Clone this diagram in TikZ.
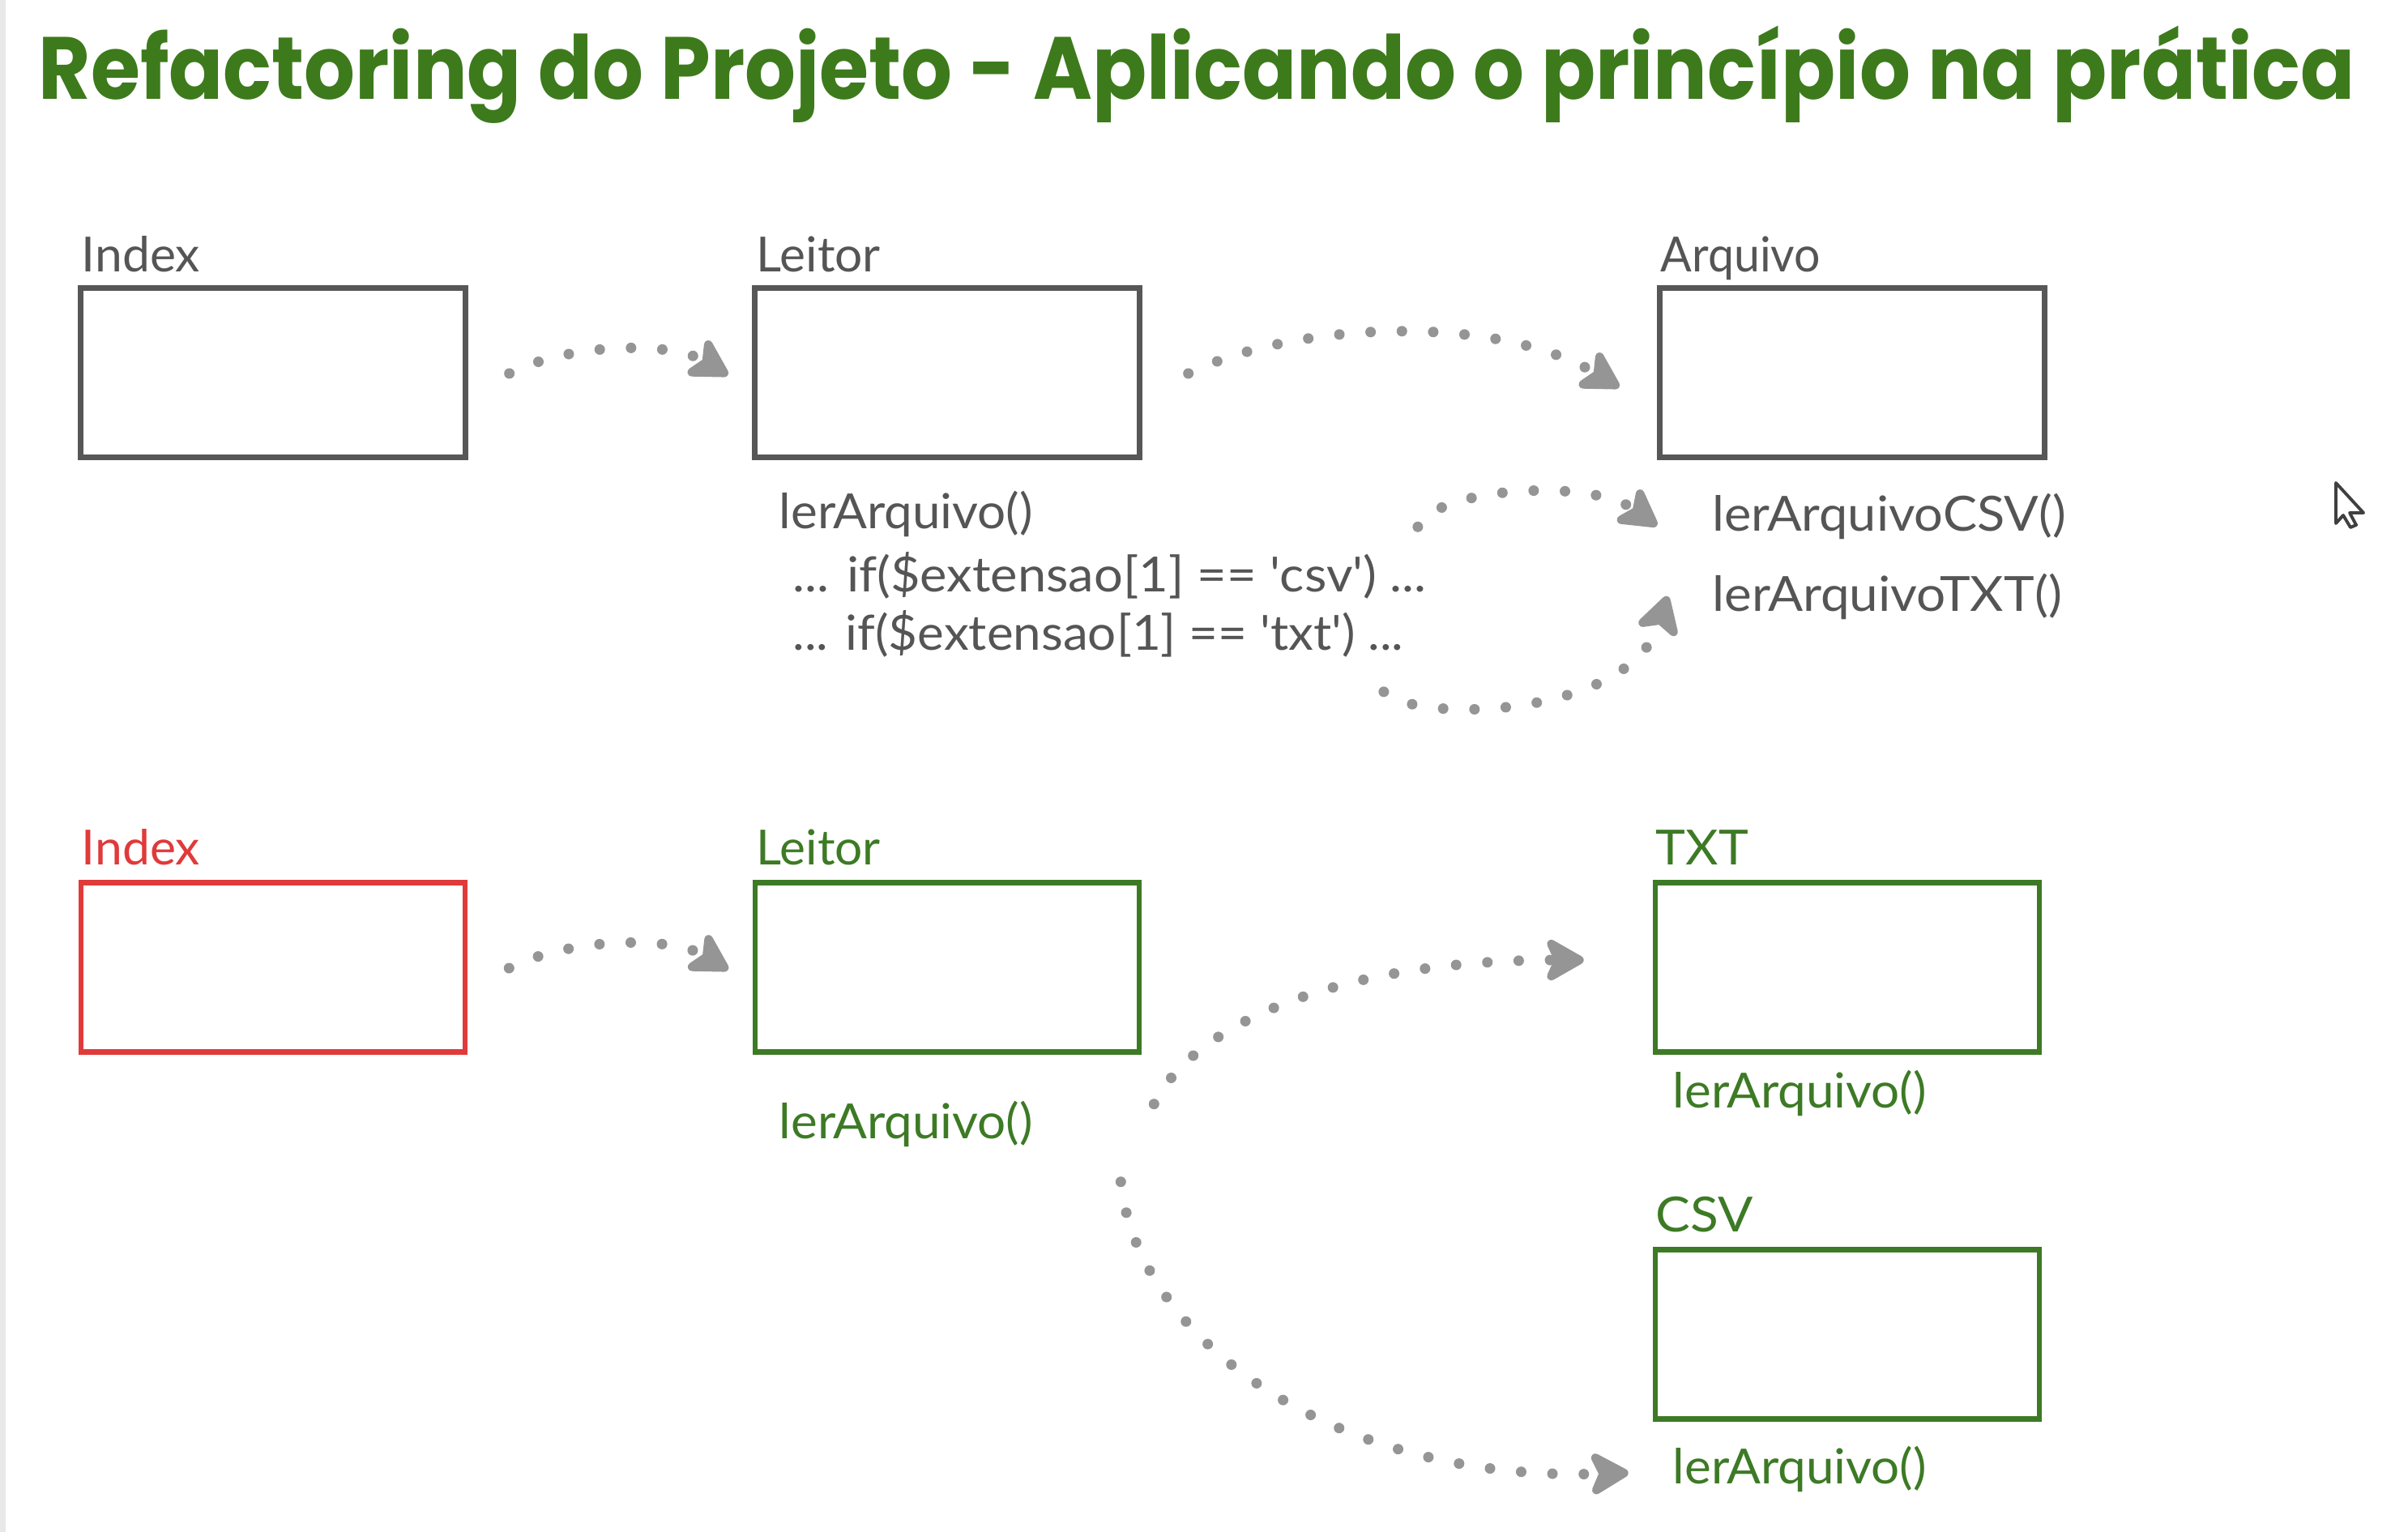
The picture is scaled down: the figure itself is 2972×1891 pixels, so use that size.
\documentclass[tikz,border=0pt]{standalone}
\usepackage{fontspec}
\usepackage{graphicx}
\setmainfont{Lato}
\newfontfamily\titlefont{Poppins}
\usetikzlibrary{arrows.meta,calc}
\definecolor{titlegreen}{HTML}{3D7A1C}
\definecolor{boxgreen}{HTML}{3D7A25}
\definecolor{boxred}{HTML}{E03A3A}
\definecolor{boxgray}{HTML}{575757}
\definecolor{txtgray}{HTML}{555555}
\definecolor{dotgray}{HTML}{959595}
\newcommand{\fitw}[2]{\resizebox{#1}{\height}{#2}}
\newcommand{\sq}{\textquotesingle}
\begin{document}
\begin{tikzpicture}[x=0.01cm,y=-0.01cm,
  box/.style={draw, line width=2pt, minimum width=4.74cm, minimum height=2.09cm, inner sep=0pt},
  graybox/.style={box, draw=boxgray},
  greenbox/.style={box, draw=boxgreen, line width=1.8pt},
  redbox/.style={box, draw=boxred, line width=1.8pt},
  lbl/.style={anchor=base west, inner sep=0pt, font=\fontsize{17}{20}\selectfont},
  graytxt/.style={lbl, text=txtgray},
  greentxt/.style={lbl, text=boxgreen},
  redtxt/.style={lbl, text=boxred},
  dotarrow/.style={draw=dotgray, line width=3.7pt, line cap=round, dash pattern=on 0pt off 11pt,
    -{Stealth[length=16pt,width=18pt,inset=4pt,round,fill=dotgray]}}
]
\useasboundingbox (0,0) rectangle (2972,1891);
\fill[white] (0,0) rectangle (2972,1891);
\fill[gray!18] (0,0) rectangle (7,1891);

% title
\node[anchor=base west, inner sep=0pt, text=titlegreen] (title) at (47,123)
  {\fitw{28.57cm}{\titlefont\bfseries\fontsize{31}{36}\selectfont Refactoring do Projeto - Aplicando o princípio na prática}};

% top row
\node[graybox] (idx1) at (337,460) {};
\node[graybox] (lei1) at (1169,460) {};
\node[graybox] (arq)  at (2286,460) {};
\node[graytxt] (idx1l) at (100,335) {\fitw{1.46cm}{Index}};
\node[graytxt] (lei1l) at (933,335) {\fitw{1.53cm}{Leitor}};
\node[graytxt] (arql)  at (2049,335) {\fitw{1.97cm}{Arquivo}};

\node[graytxt] (ler1) at (961,652) {\fitw{3.13cm}{lerArquivo()}};
\node[graytxt] (ifcsv) at (978,730) {\fitw{7.81cm}{... if(\$extensao[1] == \sq csv\sq) ...}};
\node[graytxt] (iftxt) at (978,802) {\fitw{7.53cm}{... if(\$extensao[1] == \sq txt\sq) ...}};
\node[graytxt] (lercsv) at (2113,655) {\fitw{4.36cm}{lerArquivoCSV()}};
\node[graytxt] (lertxt) at (2113,754) {\fitw{4.31cm}{lerArquivoTXT()}};

% bottom row
\node[redbox] (idx2) at (337,1194) {};
\node[greenbox] (lei2) at (1169,1194) {};
\node[greenbox] (txt) at (2280,1194) {};
\node[greenbox] (csv) at (2280,1647) {};
\node[redtxt] (idx2l) at (100,1067) {\fitw{1.46cm}{Index}};
\node[greentxt] (lei2l) at (933,1067) {\fitw{1.53cm}{Leitor}};
\node[greentxt] (txtl) at (2043,1067) {\fitw{1.14cm}{TXT}};
\node[greentxt] (csvl) at (2043,1520) {\fitw{1.20cm}{CSV}};
\node[greentxt] (ler2) at (961,1405) {\fitw{3.13cm}{lerArquivo()}};
\node[greentxt] (ler3) at (2064,1367) {\fitw{3.13cm}{lerArquivo()}};
\node[greentxt] (ler4) at (2064,1831) {\fitw{3.13cm}{lerArquivo()}};

% connector end points
\coordinate (a1s) at ($(idx1.east)+(51,1)$);
\coordinate (a1e) at ($(lei1.west)+(-30,3)$);
\coordinate (a2s) at ($(lei1.east)+(57,1)$);
\coordinate (a2e) at ($(arq.west)+(-47,18)$);
\coordinate (a3s) at ($(ifcsv.north east)+(-11,-30)$);
\coordinate (a3e) at ($(lercsv.west)+(-68,12)$);
\coordinate (a4s) at ($(iftxt.east)+(-25,72)$);
\coordinate (a4e) at ($(lertxt.west)+(-55,0)$);
\coordinate (a5s) at ($(idx2.east)+(51,1)$);
\coordinate (a5e) at ($(lei2.west)+(-30,3)$);
\coordinate (a6s) at ($(lei2.south east)+(15,61)$);
\coordinate (a6e) at ($(txt.west)+(-85,-9)$);
\coordinate (a7s) at ($(lei2.south east)+(-26,157)$);
\coordinate (a7e) at ($(csv.west)+(-30,171)$);

% connectors
\draw[dotarrow] (a1s) .. controls +(75,-38) and +(-70,-42) .. (a1e);
\draw[dotarrow] (a2s) .. controls +(137,-66) and +(-150,-90) .. (a2e);
\draw[dotarrow] (a3s) .. controls +(22,-48) and +(-83,-60) .. (a3e);
\draw[dotarrow] (a4s) .. controls +(40,40) and +(-45,150) .. (a4e);
\draw[dotarrow] (a5s) .. controls +(75,-38) and +(-70,-42) .. (a5e);
\draw[dotarrow] (a6s) .. controls +(49,-99) and +(-302,0) .. (a6e);
\draw[dotarrow] (a7s) .. controls +(20,195) and +(-362,12) .. (a7e);

% mouse pointer
\draw[line width=1.1pt, draw=black!75, fill=white, line join=round]
  (2883,596) -- (2883,646) -- (2892,636) -- (2901,651) -- (2908,648) -- (2900,633) -- (2917,633) -- cycle;
\end{tikzpicture}
\end{document}
